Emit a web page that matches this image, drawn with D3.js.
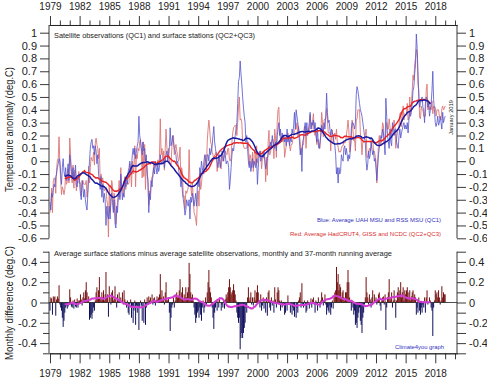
<!DOCTYPE html>
<html><head><meta charset="utf-8">
<script src="https://cdn.jsdelivr.net/npm/d3@7"></script>
<style>
body{margin:0;background:#fff}
svg text{font-family:"Liberation Sans",Arial,sans-serif;fill:#222}
</style>
</head><body>
<svg id="chart" width="487" height="380"></svg>
<script>
// ---------------- data ----------------
const startYear = 1979;              // first month = Jan 1979
const yearLabels = [1979,1982,1985,1988,1991,1994,1997,2000,2003,2006,2009,2012,2015,2018];
const minorYears = d3.range(1979, 2021).filter(y => (y - 1979) % 3 !== 0);
const topTicks = [-0.6,-0.5,-0.4,-0.3,-0.2,-0.1,0,0.1,0.2,0.3,0.4,0.5,0.6,0.7,0.8,0.9,1];
const bottomLabelTicks = [-0.4,-0.2,0,0.2,0.4];
const bottomMinorTicks = [-0.5,-0.3,-0.1,0.1,0.3,0.5];

// Average of UAH MSU and RSS MSU (QC1), monthly, deg C
const satMonthly = [
/*1979*/ -0.32,-0.38,-0.25,-0.28,-0.22,-0.18,-0.2,-0.12,-0.1,-0.05,-0.02,0.02,
/*1980*/ 0.0,-0.1,-0.18,-0.05,0.02,-0.08,-0.12,-0.05,-0.15,-0.1,-0.02,-0.15,
/*1981*/ 0.05,0.0,-0.08,-0.12,-0.05,-0.15,-0.1,-0.03,-0.18,-0.2,-0.12,-0.1,
/*1982*/ -0.18,-0.25,-0.3,-0.15,-0.2,-0.28,-0.22,-0.3,-0.35,-0.38,-0.25,-0.1,
/*1983*/ 0.0,0.1,0.15,0.17,0.1,0.12,0.05,0.12,0.08,-0.02,0.05,-0.1,
/*1984*/ -0.15,-0.22,-0.12,-0.28,-0.18,-0.32,-0.25,-0.3,-0.5,-0.35,-0.42,-0.45,
/*1985*/ -0.35,-0.45,-0.3,-0.25,-0.32,-0.4,-0.3,-0.48,-0.52,-0.35,-0.4,-0.28,
/*1986*/ -0.25,-0.3,-0.1,-0.2,-0.3,-0.25,-0.28,-0.15,-0.2,-0.12,-0.18,-0.08,
/*1987*/ -0.05,0.0,-0.1,-0.05,0.05,0.1,0.05,0.1,0.02,0.08,0.12,0.15,
/*1988*/ 0.35,0.2,0.15,0.1,0.05,0.15,0.08,0.1,0.0,0.05,-0.1,-0.15,
/*1989*/ -0.4,-0.25,-0.3,-0.15,-0.2,-0.1,-0.05,-0.1,0.0,-0.05,-0.1,-0.02,
/*1990*/ -0.08,-0.05,0.05,0.0,-0.02,0.0,0.02,-0.05,0.0,0.05,0.08,0.0,
/*1991*/ 0.05,0.1,0.26,0.12,0.15,0.2,0.15,0.1,0.08,0.05,-0.02,0.0,
/*1992*/ -0.05,-0.1,-0.12,-0.2,-0.15,-0.25,-0.3,-0.35,-0.42,-0.38,-0.3,-0.33,
/*1993*/ -0.35,-0.3,-0.45,-0.28,-0.32,-0.25,-0.3,-0.35,-0.3,-0.25,-0.35,-0.2,
/*1994*/ -0.15,-0.2,-0.05,-0.1,0.0,-0.05,-0.1,0.0,0.05,0.0,-0.05,0.05,
/*1995*/ 0.05,0.0,0.1,0.05,0.08,0.12,0.2,0.27,0.15,0.1,0.05,0.0,
/*1996*/ -0.05,0.05,0.0,-0.05,0.02,0.08,0.05,0.0,0.1,0.05,-0.02,0.0,
/*1997*/ 0.0,-0.05,-0.22,-0.15,-0.05,0.05,0.1,0.08,0.15,0.2,0.25,0.3,
/*1998*/ 0.45,0.62,0.65,0.78,0.68,0.6,0.5,0.42,0.35,0.3,0.15,0.2,
/*1999*/ 0.1,0.0,-0.05,0.0,-0.08,-0.03,0.02,-0.05,0.0,-0.03,-0.05,0.02,
/*2000*/ -0.18,-0.05,0.05,0.08,0.0,0.02,0.05,0.03,0.08,0.0,-0.06,-0.02,
/*2001*/ 0.02,0.05,0.12,0.1,0.15,0.1,0.2,0.15,0.12,0.1,0.15,0.08,
/*2002*/ 0.2,0.25,0.3,0.2,0.25,0.15,0.22,0.18,0.2,0.15,0.18,0.12,
/*2003*/ 0.25,0.15,0.2,0.12,0.18,0.15,0.25,0.22,0.28,0.38,0.25,0.4,
/*2004*/ 0.35,0.3,0.25,0.15,0.05,0.1,-0.08,0.15,0.18,0.25,0.3,0.2,
/*2005*/ 0.3,0.2,0.25,0.3,0.38,0.25,0.3,0.28,0.32,0.25,0.3,0.22,
/*2006*/ 0.15,0.25,0.12,0.1,0.15,0.2,0.28,0.25,0.22,0.3,0.25,0.35,
/*2007*/ 0.53,0.38,0.3,0.32,0.25,0.2,0.25,0.22,0.2,0.15,0.12,0.05,
/*2008*/ -0.1,-0.05,-0.17,-0.05,-0.1,-0.08,0.05,0.02,0.0,0.1,0.12,0.05,
/*2009*/ 0.1,0.05,0.0,0.05,0.02,0.1,0.25,0.3,0.3,0.28,0.25,0.3,
/*2010*/ 0.52,0.58,0.55,0.5,0.45,0.4,0.38,0.35,0.3,0.25,0.2,0.15,
/*2011*/ 0.0,-0.07,-0.02,0.08,0.02,0.05,0.15,0.1,0.05,0.08,0.0,0.02,
/*2012*/ -0.05,-0.15,-0.05,0.05,0.1,0.15,0.2,0.18,0.25,0.22,0.15,0.05,
/*2013*/ 0.49,0.35,0.2,0.15,0.1,0.25,0.15,0.12,0.3,0.28,0.2,0.25,
/*2014*/ 0.25,0.15,0.12,0.1,0.2,0.25,0.18,0.22,0.25,0.28,0.3,0.25,
/*2015*/ 0.28,0.25,0.3,0.22,0.32,0.38,0.35,0.38,0.45,0.55,0.58,0.68,
/*2016*/ 0.75,0.99,0.88,0.7,0.5,0.42,0.45,0.48,0.5,0.42,0.4,0.3,
/*2017*/ 0.45,0.5,0.48,0.42,0.45,0.35,0.4,0.45,0.55,0.7,0.48,0.4,
/*2018*/ 0.3,0.27,0.3,0.35,0.28,0.3,0.35,0.3,0.25,0.38,0.3,0.33,
/*2019*/ 0.35
];

// Average surface stations minus average satellite observations, monthly, deg C
const diffMonthly = [
/*1979*/ -0.08,0.05,0.04,-0.12,0.06,0.05,0.06,-0.13,0.03,0.06,0.04,0.17,
/*1980*/ -0.02,-0.05,-0.08,-0.15,-0.24,-0.18,-0.1,-0.05,-0.03,-0.06,-0.04,-0.02,
/*1981*/ 0.13,0.05,-0.04,-0.05,0.02,-0.06,0.03,-0.04,-0.05,0.04,-0.05,0.02,
/*1982*/ 0.02,0.08,0.03,-0.03,0.05,0.1,0.04,0.12,0.2,0.1,0.02,0.06,
/*1983*/ -0.17,-0.15,-0.12,-0.16,-0.1,-0.05,-0.08,0.02,0.1,0.15,0.05,0.12,
/*1984*/ 0.25,0.05,0.02,0.1,0.05,0.12,0.02,0.08,0.3,0.05,0.08,-0.14,
/*1985*/ 0.16,0.05,-0.02,0.1,0.12,0.02,0.05,0.16,0.03,-0.05,0.08,0.02,
/*1986*/ 0.1,0.02,0.05,0.0,0.1,-0.02,0.12,0.03,-0.02,-0.05,0.02,-0.1,
/*1987*/ -0.12,-0.02,0.03,-0.15,-0.05,-0.2,-0.08,0.02,-0.22,-0.03,-0.1,-0.05,
/*1988*/ -0.27,-0.05,0.02,-0.03,-0.18,0.0,-0.2,0.03,-0.22,-0.05,0.05,-0.02,
/*1989*/ 0.06,0.02,0.05,0.0,0.08,-0.02,0.04,0.05,-0.03,0.02,0.06,0.03,
/*1990*/ 0.05,0.08,0.28,0.05,0.12,0.02,0.06,-0.02,0.1,0.2,0.03,0.02,
/*1991*/ 0.05,-0.1,-0.28,-0.15,-0.05,-0.02,0.05,-0.05,0.02,0.08,0.1,0.05,
/*1992*/ 0.05,0.12,0.23,0.05,0.1,0.15,0.02,0.08,0.05,0.15,0.05,0.1,
/*1993*/ 0.15,0.39,0.28,0.1,0.05,0.08,0.02,-0.05,-0.12,-0.2,-0.15,-0.1,
/*1994*/ -0.08,-0.15,-0.05,-0.12,-0.18,-0.05,0.02,-0.1,-0.05,0.05,-0.02,0.1,
/*1995*/ 0.2,0.32,0.15,0.1,0.05,-0.05,-0.15,-0.26,-0.1,-0.05,0.02,-0.08,
/*1996*/ 0.02,-0.05,0.05,0.0,-0.08,-0.02,-0.05,0.02,-0.06,0.03,0.08,0.05,
/*1997*/ 0.1,0.15,0.23,0.15,0.08,0.1,0.12,0.18,0.12,0.08,0.02,-0.1,
/*1998*/ -0.15,-0.2,-0.15,-0.46,-0.35,-0.3,-0.35,-0.3,-0.25,-0.2,-0.05,-0.1,
/*1999*/ 0.05,0.15,0.02,0.05,0.1,-0.02,0.05,-0.03,0.05,0.12,0.02,0.1,
/*2000*/ 0.17,0.1,0.02,-0.05,0.08,-0.08,-0.03,0.05,-0.06,0.03,-0.1,0.05,
/*2001*/ -0.13,0.1,0.12,-0.05,-0.08,0.05,-0.03,0.02,-0.1,0.15,0.03,-0.05,
/*2002*/ 0.1,0.15,0.12,0.02,-0.08,0.02,-0.05,-0.03,-0.02,-0.12,-0.1,0.0,
/*2003*/ -0.08,0.07,-0.02,0.0,-0.1,-0.02,-0.12,-0.05,-0.08,-0.14,0.0,-0.15,
/*2004*/ -0.05,-0.1,0.02,0.05,0.1,-0.05,0.19,-0.02,-0.05,0.02,-0.03,-0.1,
/*2005*/ -0.08,0.02,0.0,-0.06,-0.02,0.04,-0.05,0.03,0.05,-0.02,-0.1,0.02,
/*2006*/ -0.02,-0.08,0.05,0.0,-0.05,0.02,0.1,0.05,-0.03,0.02,0.08,-0.02,
/*2007*/ -0.12,-0.05,-0.08,-0.1,-0.03,-0.12,-0.05,0.02,-0.06,0.05,0.1,0.12,
/*2008*/ 0.35,0.2,0.28,0.12,0.18,0.15,0.05,0.1,0.12,0.05,0.02,0.1,
/*2009*/ 0.1,0.2,0.32,0.2,0.05,0.0,-0.08,0.02,-0.05,-0.12,-0.08,-0.22,
/*2010*/ -0.2,-0.25,-0.15,-0.1,-0.05,-0.18,-0.22,-0.3,-0.15,-0.1,-0.02,0.05,
/*2011*/ 0.25,0.1,0.05,-0.02,0.08,0.03,-0.05,0.05,0.12,0.0,0.08,0.02,
/*2012*/ 0.05,-0.02,0.03,0.08,0.1,-0.03,-0.08,0.02,0.05,0.06,-0.02,0.08,
/*2013*/ -0.27,-0.05,0.05,0.1,0.23,0.02,0.05,0.1,-0.05,0.02,0.12,0.03,
/*2014*/ -0.15,0.02,0.1,0.15,0.08,0.12,0.2,0.05,0.1,0.15,0.02,0.12,
/*2015*/ 0.08,0.12,0.15,0.1,0.03,0.12,0.02,0.06,0.1,0.12,0.05,0.08,
/*2016*/ 0.05,-0.12,-0.05,-0.1,0.05,-0.08,-0.12,-0.05,-0.1,-0.02,-0.05,0.05,
/*2017*/ -0.1,0.05,0.12,-0.02,0.0,0.05,0.02,-0.05,-0.08,-0.33,-0.05,0.02,
/*2018*/ 0.12,0.08,0.1,0.05,0.12,0.05,-0.02,0.02,0.16,0.05,0.1,0.08,
/*2019*/ 0.08
];

// Surface average (HadCRUT4, GISS, NCDC) = satellite + difference
const sfcMonthly = satMonthly.map((v, i) => +(v + diffMonthly[i]).toFixed(3));

// 37-month centred running average (as stated in the chart)
function running37(arr) {
  const out = [];
  for (let i = 18; i < arr.length - 18; i++) {
    out.push({i, v: d3.mean(arr.slice(i - 18, i + 19))});
  }
  return out;
}
const satSmooth = running37(satMonthly);
const sfcSmooth = running37(sfcMonthly);
const diffSmooth = running37(diffMonthly);

// ---------------- drawing ----------------
const svg = d3.select("#chart");
svg.append("rect").attr("width", 487).attr("height", 380).attr("fill", "#fff");

const L = 49, R = 457;
const x = d3.scaleLinear().domain([1978.9, 2020.2]).range([L, R]);
const tOf = i => startYear + i / 12;
const yTop = d3.scaleLinear().domain([-0.6, 1]).range([238.3, 32.7]);
const yBot = d3.scaleLinear().domain([-0.5, 0.5]).range([353.3, 251.7]);
const fmt = d => String(+(+d).toFixed(1));

function styleAxis(g, size) {
  g.selectAll("text").style("font-size", size + "px").attr("fill", "#222");
  g.selectAll("line,path").attr("stroke", "#222").attr("stroke-width", 0.9);
}

// top time axis
const topAxisY = yTop(1.06);
svg.append("g").attr("transform", `translate(0,${topAxisY})`)
  .call(d3.axisTop(x).tickValues(yearLabels).tickFormat(d3.format("d")).tickSize(9).tickSizeOuter(0).tickPadding(6))
  .call(g => styleAxis(g, 10));
svg.append("g").attr("transform", `translate(0,${topAxisY})`)
  .call(d3.axisTop(x).tickValues(minorYears).tickFormat("").tickSize(4.5).tickSizeOuter(0))
  .call(g => styleAxis(g, 10));

// top panel y axes
svg.append("g").attr("transform", `translate(${L},0)`)
  .call(d3.axisLeft(yTop).tickValues(topTicks).tickFormat(fmt).tickSize(9).tickPadding(3))
  .call(g => g.select(".domain").remove())
  .call(g => styleAxis(g, 11));
svg.append("g").attr("transform", `translate(${R},0)`)
  .call(d3.axisRight(yTop).tickValues(topTicks).tickFormat(fmt).tickSize(9).tickPadding(3))
  .call(g => g.select(".domain").remove())
  .call(g => styleAxis(g, 11));
[L, R].forEach(xx => svg.append("line")
  .attr("x1", xx).attr("x2", xx).attr("y1", topAxisY).attr("y2", yTop(-0.6))
  .attr("stroke", "#222").attr("stroke-width", 0.9));

// monthly lines
const lineTop = d3.line().x((d, i) => x(tOf(i))).y(d => yTop(d));
svg.append("path").datum(sfcMonthly).attr("d", lineTop)
  .attr("fill", "none").attr("stroke", "#dc7676").attr("stroke-width", 0.9);
svg.append("path").datum(satMonthly).attr("d", lineTop)
  .attr("fill", "none").attr("stroke", "#5454cc").attr("stroke-width", 0.9).attr("stroke-opacity", 0.9);
const lineSmooth = d3.line().x(d => x(tOf(d.i))).y(d => yTop(d.v));
svg.append("path").datum(sfcSmooth).attr("d", lineSmooth)
  .attr("fill", "none").attr("stroke", "#e82222").attr("stroke-width", 1.4);
svg.append("path").datum(satSmooth).attr("d", lineSmooth)
  .attr("fill", "none").attr("stroke", "#1a1aa0").attr("stroke-width", 1.5);

// top panel texts
svg.append("text").attr("x", 54).attr("y", 37.5).attr("textLength", 201).attr("lengthAdjust", "spacingAndGlyphs")
  .style("font-size", "7.6px").text("Satellite observations (QC1) and surface stations (QC2+QC3)");
svg.append("text").attr("x", 441).attr("y", 222).attr("text-anchor", "end")
  .attr("textLength", 124).attr("lengthAdjust", "spacingAndGlyphs")
  .style("font-size", "6px").style("fill", "#3030c0").text("Blue: Average UAH MSU and RSS MSU (QC1)");
svg.append("text").attr("x", 441).attr("y", 236).attr("text-anchor", "end")
  .attr("textLength", 151).attr("lengthAdjust", "spacingAndGlyphs")
  .style("font-size", "6px").style("fill", "#d83030").text("Red: Average HadCRUT4, GISS and NCDC (QC2+QC3)");
svg.append("text").attr("transform", "translate(453,117.5) rotate(-90)").attr("text-anchor", "middle")
  .attr("textLength", 35).attr("lengthAdjust", "spacingAndGlyphs")
  .style("font-size", "6px").text("January 2019");
svg.append("text").attr("transform", "translate(12.5,129.5) rotate(-90)").attr("text-anchor", "middle")
  .attr("textLength", 125).attr("lengthAdjust", "spacingAndGlyphs")
  .style("font-size", "10.5px").text("Temperature anomaly (deg.C)");

// ---------------- bottom panel ----------------
svg.append("g").attr("transform", `translate(${L},0)`)
  .call(d3.axisLeft(yBot).tickValues(bottomLabelTicks).tickFormat(fmt).tickSize(9).tickPadding(3))
  .call(g => g.select(".domain").remove())
  .call(g => styleAxis(g, 11));
svg.append("g").attr("transform", `translate(${L},0)`)
  .call(d3.axisLeft(yBot).tickValues(bottomMinorTicks).tickFormat("").tickSize(6))
  .call(g => g.select(".domain").remove())
  .call(g => styleAxis(g, 11));
svg.append("g").attr("transform", `translate(${R},0)`)
  .call(d3.axisRight(yBot).tickValues(bottomLabelTicks).tickFormat(fmt).tickSize(9).tickPadding(3))
  .call(g => g.select(".domain").remove())
  .call(g => styleAxis(g, 11));
svg.append("g").attr("transform", `translate(${R},0)`)
  .call(d3.axisRight(yBot).tickValues(bottomMinorTicks).tickFormat("").tickSize(9))
  .call(g => g.select(".domain").remove())
  .call(g => styleAxis(g, 11));
[L, R].forEach(xx => svg.append("line")
  .attr("x1", xx).attr("x2", xx).attr("y1", yBot(0.5)).attr("y2", yBot(-0.5))
  .attr("stroke", "#222").attr("stroke-width", 0.9));

// bottom time axis
svg.append("g").attr("transform", `translate(0,${yBot(-0.5)})`)
  .call(d3.axisBottom(x).tickValues(yearLabels).tickFormat(d3.format("d")).tickSize(10).tickSizeOuter(0).tickPadding(7))
  .call(g => styleAxis(g, 10));
svg.append("g").attr("transform", `translate(0,${yBot(-0.5)})`)
  .call(d3.axisBottom(x).tickValues(minorYears).tickFormat("").tickSize(6).tickSizeOuter(0))
  .call(g => styleAxis(g, 10));

// difference bars
svg.append("g").selectAll("rect").data(diffMonthly).join("rect")
  .attr("x", (d, i) => x(tOf(i)) - 0.5)
  .attr("width", 1.0)
  .attr("y", d => yBot(Math.max(0, d)))
  .attr("height", d => Math.abs(yBot(d) - yBot(0)))
  .attr("fill", d => d >= 0 ? "#741010" : "#10105c");
svg.append("line").attr("x1", L).attr("x2", R).attr("y1", yBot(0)).attr("y2", yBot(0))
  .attr("stroke", "#222").attr("stroke-width", 0.8);
svg.append("path").datum(diffSmooth)
  .attr("d", d3.line().x(d => x(tOf(d.i))).y(d => yBot(d.v)))
  .attr("fill", "none").attr("stroke", "#d23cd2").attr("stroke-width", 2);

svg.append("text").attr("x", 54).attr("y", 255.5).attr("textLength", 338).attr("lengthAdjust", "spacingAndGlyphs")
  .style("font-size", "7.6px").text("Average surface stations minus average satellite observations, monthly and 37-month running average");
svg.append("text").attr("x", 444).attr("y", 348.5).attr("text-anchor", "end")
  .attr("textLength", 49).attr("lengthAdjust", "spacingAndGlyphs")
  .style("font-size", "6px").style("fill", "#3030c0").text("Climate4you graph");
svg.append("text").attr("transform", "translate(12.5,303) rotate(-90)").attr("text-anchor", "middle")
  .attr("textLength", 114).attr("lengthAdjust", "spacingAndGlyphs")
  .style("font-size", "10.5px").text("Monthly difference (deg.C)");
</script>
</body></html>
